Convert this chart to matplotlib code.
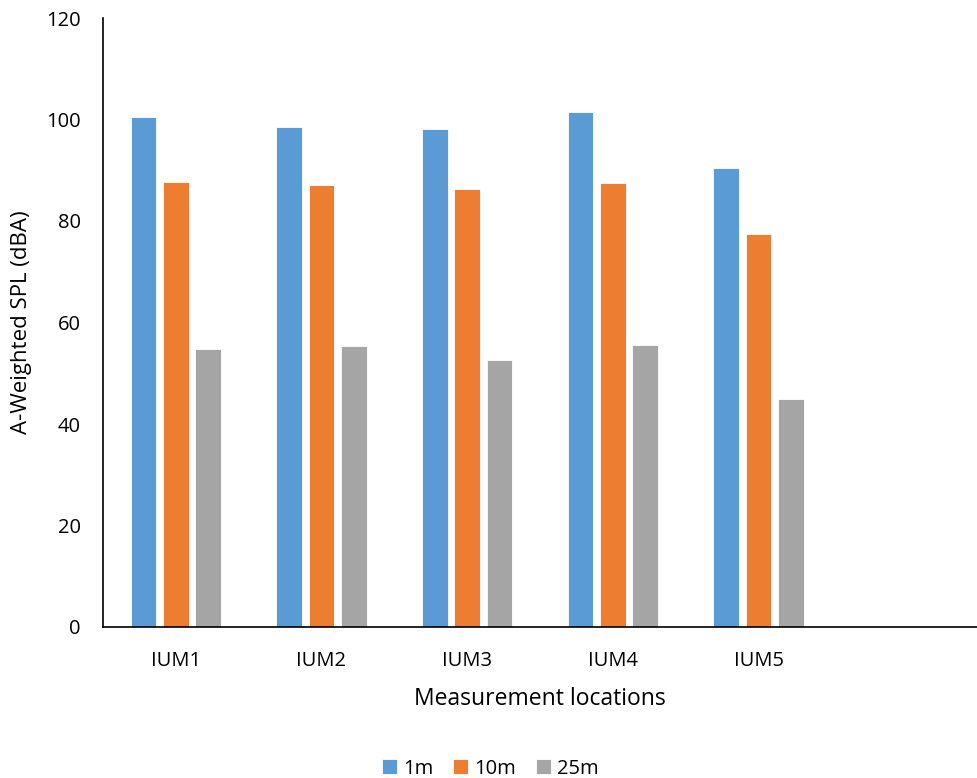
import matplotlib
matplotlib.use("Agg")
import matplotlib.pyplot as plt
import numpy as np

plt.rcParams['font.family'] = ['Open Sans', 'DejaVu Sans']

locations = ["IUM1", "IUM2", "IUM3", "IUM4", "IUM5", ""]
series_names = ["1m", "10m", "25m"]
spl_1m = [100.5, 98.5, 98.1, 101.5, 90.4]
spl_10m = [87.6, 87.0, 86.4, 87.5, 77.4]
spl_25m = [54.7, 55.4, 52.6, 55.6, 44.9]
colors = ["#5B9BD5", "#ED7D31", "#A5A5A5"]
y_ticks = [0, 20, 40, 60, 80, 100, 120]

fig = plt.figure(figsize=(9.77, 7.78), dpi=100)
ax = fig.add_axes([103 / 977, 1 - 627 / 778, 874 / 977, 609 / 778])

x = np.arange(len(locations))
width = 0.175
offset = 0.222
for i, (vals, name, c) in enumerate(zip([spl_1m, spl_10m, spl_25m], series_names, colors)):
    ax.bar(x[:len(vals)] + (i - 1) * offset, vals, width=width, color=c,
           edgecolor="white", linewidth=0.6, label=name, zorder=2)

ax.set_xlim(-0.5, len(locations) - 0.5)
ax.set_ylim(0, 120)
ax.set_yticks(y_ticks)
ax.set_xticks(x)
ax.set_xticklabels(locations)
ax.tick_params(axis='both', length=0, labelsize=14.5, colors="#000000")
ax.tick_params(axis='x', pad=17)
ax.tick_params(axis='y', pad=16)

for s in ["top", "right"]:
    ax.spines[s].set_visible(False)
for s in ["left", "bottom"]:
    ax.spines[s].set_color("#000000")
    ax.spines[s].set_linewidth(1.2)

ax.set_xlabel("Measurement locations", fontsize=16.5, labelpad=12)
ax.set_ylabel("A-Weighted SPL (dBA)", fontsize=16, labelpad=10)

fig.legend(loc="lower center", bbox_to_anchor=(0.502, -0.024), ncol=3, frameon=False,
           fontsize=14.5, handlelength=0.75, handleheight=0.75, handletextpad=0.3,
           columnspacing=1.0)

fig.savefig("out.png", dpi=100)
